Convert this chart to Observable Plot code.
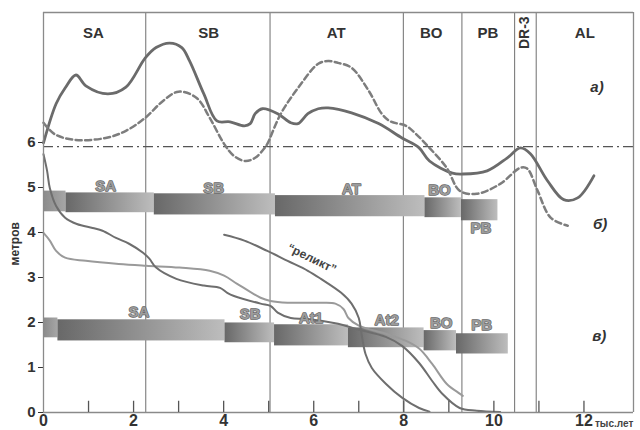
<!DOCTYPE html>
<html><head><meta charset="utf-8">
<script src="https://cdn.jsdelivr.net/npm/d3@7"></script>
<script src="https://cdn.jsdelivr.net/npm/@observablehq/plot@0.6"></script>
<style>
body{margin:0;background:#fff;}
svg{display:block;font-family:"Liberation Sans",Arial,sans-serif;}
</style>
</head><body><div id="chart"></div>
<script>
// ---- data ----
const periodNames = ["SA", "SB", "AT", "BO", "PB", "DR-3", "AL"];
const periodLabelX = [1.11, 3.67, 6.50, 8.61, 9.87, 10.68, 12.02];
const periodBounds = [2.27, 5.03, 7.99, 9.29, 10.46, 10.94];
const refLevel = 5.91;
const yTicks = [0, 1, 2, 3, 4, 5, 6];
const xMinorTicks = [1, 2, 3, 4, 5, 6, 7, 8, 9, 10, 11, 12];
const xTickLabels = [0, 2, 4, 6, 8, 10, 12];

// curve а) solid
const curveASolid = [[0,5.99],[0.28,6.86],[0.48,7.21],[0.72,7.50],[0.94,7.26],[1.43,7.08],[1.83,7.23],[2.26,7.88],[2.50,8.11],[2.80,8.21],[3.07,8.11],[3.24,7.82],[3.56,7.08],[3.85,6.48],[4.14,6.46],[4.46,6.37],[4.59,6.42],[4.70,6.64],[4.86,6.75],[5.20,6.64],[5.49,6.44],[5.65,6.42],[5.87,6.64],[6.10,6.75],[6.32,6.77],[6.84,6.66],[7.44,6.42],[7.96,6.10],[8.34,5.88],[8.57,5.59],[9.08,5.32],[9.31,5.30],[9.85,5.37],[10.30,5.66],[10.59,5.88],[10.81,5.75],[11.19,5.15],[11.55,4.73],[11.86,4.77],[12.22,5.26]];
// curve а) dashed
const curveADashed = [[0,6.44],[0.24,6.19],[0.68,6.06],[1.38,6.10],[1.83,6.26],[2.26,6.55],[2.66,6.93],[3.00,7.13],[3.40,6.99],[3.69,6.55],[4.01,5.97],[4.23,5.70],[4.48,5.59],[4.70,5.66],[4.91,5.88],[4.97,5.97],[5.27,6.64],[5.65,7.21],[6.10,7.75],[6.32,7.81],[6.54,7.77],[6.84,7.66],[7.22,7.15],[7.51,6.64],[7.70,6.47],[8.05,6.37],[8.27,6.19],[8.57,5.88],[8.95,5.44],[9.24,4.93],[9.62,4.86],[10.14,5.08],[10.59,5.44],[10.74,5.42],[10.97,4.93],[11.26,4.33],[11.64,4.15]];
// lower curves
const curveDark = [[0,5.74],[0.08,5.37],[0.14,4.99],[0.28,4.59],[0.48,4.33],[0.74,4.19],[1.09,4.10],[1.31,4.04],[1.61,3.88],[1.90,3.75],[2.21,3.55],[2.35,3.42],[2.50,3.22],[2.95,2.97],[3.56,2.82],[3.92,2.77],[4.08,2.66],[4.23,2.59],[4.82,2.42],[5.04,2.37],[5.20,2.22],[5.49,2.10],[5.87,2.08],[6.54,1.97],[6.93,1.86],[7.60,1.68],[7.96,1.48],[8.34,1.10],[8.63,0.70],[8.86,0.41],[9.24,0.10],[9.62,0.04],[10.14,0.01]];
const curveLight = [[0,3.99],[0.14,3.82],[0.28,3.59],[0.48,3.44],[0.94,3.37],[1.67,3.30],[2.28,3.26],[3.02,3.22],[3.69,3.15],[4.01,3.04],[4.30,2.86],[4.82,2.55],[5.04,2.48],[5.42,2.44],[6.16,2.44],[6.48,2.42],[6.66,2.30],[6.77,2.10],[7.00,1.93],[7.60,1.75],[8.05,1.59],[8.34,1.42],[8.63,1.08],[8.95,0.64],[9.24,0.42],[9.31,0.37]];
const curveRelict = [[4.01,3.95],[4.46,3.82],[4.97,3.59],[5.42,3.37],[5.87,3.15],[6.16,2.97],[6.61,2.66],[6.84,2.42],[7.00,2.10],[7.06,1.75],[7.15,1.30],[7.29,0.99],[7.60,0.64],[7.96,0.33],[8.34,0.10],[8.57,0.02]];

// bars б)
const barsBStart = [0, 0.50, 2.46, 5.15, 8.47, 9.28];
const barsBEnd   = [0.50, 2.46, 5.15, 8.47, 9.28, 10.09];
const barsBLow   = [4.46, 4.44, 4.39, 4.35, 4.33, 4.26];
const barsBHigh  = [4.92, 4.88, 4.86, 4.82, 4.77, 4.73];
const labelsB  = ["SA", "SB", "AT", "BO", "PB"];
const labelsBX = [1.38, 3.78, 6.84, 8.79, 9.71];
const labelsBY = [5.04, 4.99, 4.97, 4.93, 4.10];
// bars в)
const barsCStart = [0, 0.32, 4.03, 5.13, 6.77, 8.45, 9.17];
const barsCEnd   = [0.32, 4.03, 5.13, 6.77, 8.45, 9.17, 10.32];
const barsCLow   = [1.66, 1.59, 1.55, 1.48, 1.44, 1.37, 1.30];
const barsCHigh  = [2.10, 2.06, 1.99, 1.95, 1.88, 1.82, 1.75];
const labelsC  = ["SA", "SB", "At1", "At2", "BO", "PB"];
const labelsCX = [2.12, 4.59, 5.94, 7.62, 8.83, 9.73];
const labelsCY = [2.22, 2.19, 2.10, 2.06, 1.99, 1.93];

const panelLabels = ["а)", "б)", "в)"];
const panelLabelX = [12.29, 12.36, 12.34];
const panelLabelY = [7.24, 4.19, 1.70];

// ---- build tables ----
const toBars = (s, e, lo, hi) => s.map((v, i) => ({x1: v, x2: e[i], y1: lo[i], y2: hi[i], i}));
const bars = [...toBars(barsBStart, barsBEnd, barsBLow, barsBHigh), ...toBars(barsCStart, barsCEnd, barsCLow, barsCHigh)];
const pts = a => a.map(([x, y]) => ({x, y}));
const labels = [...labelsB.map((t, i) => ({t, x: labelsBX[i], y: labelsBY[i]})), ...labelsC.map((t, i) => ({t, x: labelsCX[i], y: labelsCY[i]}))];
const periods = periodNames.map((t, i) => ({t, x: periodLabelX[i]}));
const panels = panelLabels.map((t, i) => ({t, x: panelLabelX[i], y: panelLabelY[i]}));
const yTop = 8.889, xEnd = 13.1;

const chart = Plot.plot({
  width: 640, height: 430,
  marginLeft: 43, marginRight: 7, marginTop: 12, marginBottom: 18,
  style: {fontFamily: "Liberation Sans, Arial, sans-serif", fontSize: "15px", fontWeight: "bold", color: "#333", background: "#fff"},
  x: {domain: [0, xEnd], axis: null},
  y: {domain: [0, yTop], ticks: yTicks, tickSize: 5, tickPadding: 3, label: null, tickFormat: d => d},
  marks: [
    Plot.ruleX(periodBounds, {y1: 0, y2: yTop, stroke: "#7c7c7c", strokeWidth: 1.1}),
    Plot.ruleY([refLevel], {stroke: "#555", strokeWidth: 1.3, strokeDasharray: "10,4,2,4"}),
    Plot.rect(bars.filter(d => d.i === 0), {x1: "x1", x2: "x2", y1: "y1", y2: "y2", fill: "url(#gFirst)"}),
    Plot.rect(bars.filter(d => d.i > 0), {x1: "x1", x2: "x2", y1: "y1", y2: "y2", fill: "url(#gMain)"}),
    Plot.line(pts(curveASolid), {x: "x", y: "y", stroke: "#6b6b6b", strokeWidth: 2.8, curve: "catmull-rom"}),
    Plot.line(pts(curveADashed), {x: "x", y: "y", stroke: "#7d7d7d", strokeWidth: 2.5, strokeDasharray: "6,3.5", curve: "catmull-rom"}),
    Plot.line(pts(curveLight), {x: "x", y: "y", stroke: "#9a9a9a", strokeWidth: 2, curve: "catmull-rom"}),
    Plot.line(pts(curveDark), {x: "x", y: "y", stroke: "#6e6e6e", strokeWidth: 2, curve: "catmull-rom"}),
    Plot.line(pts(curveRelict), {x: "x", y: "y", stroke: "#6e6e6e", strokeWidth: 2, curve: "catmull-rom"}),
    Plot.text(labels, {x: "x", y: "y", text: "t", fontSize: 15, fontWeight: "bold", fill: "#9c9c9c", stroke: "#666", strokeWidth: 1.3}),
    Plot.text(["“реликт”"], {x: 5.96, y: 3.42, text: d => d, rotate: 26, fontSize: 12, fontWeight: "bold", fill: "#444"}),
    // frame
    Plot.ruleY([0, yTop], {x1: 0, x2: xEnd, stroke: "#8a8a8a", strokeWidth: 1.3}),
    Plot.ruleX([0, xEnd], {y1: 0, y2: yTop, stroke: "#8a8a8a", strokeWidth: 1.3}),
    Plot.ruleX(xMinorTicks, {y1: 0, y2: 0.25, stroke: "#555", strokeWidth: 1.3}),
    Plot.text(xTickLabels, {x: d => d, y: 0, text: d => String(d), dy: 2, lineAnchor: "top", fontSize: 16, fontWeight: "bold", fill: "#333"}),
    Plot.text(["тыс.лет"], {x: 12, y: 0, text: d => d, dx: 11, dy: 11, textAnchor: "start", fontSize: 10, fontWeight: "bold", fill: "#444"}),
    Plot.text(["метров"], {x: 0, y: 3.75, text: d => d, dx: -28, rotate: -90, fontSize: 12, fontWeight: "bold", fill: "#333"}),
    Plot.text(periods.filter(d => d.t !== "DR-3"), {x: "x", y: 8.44, text: "t", fontSize: 15, fontWeight: "bold", fill: "#333"}),
    Plot.text(periods.filter(d => d.t === "DR-3"), {x: "x", y: 8.44, text: "t", rotate: -90, fontSize: 14, fontWeight: "bold", fill: "#333"}),
    Plot.text(panels, {x: "x", y: "y", text: "t", fontSize: 15, fontWeight: "bold", fontStyle: "italic", fill: "#333"})
  ]
});

// gradients for bars
const ns = "http://www.w3.org/2000/svg";
const defs = document.createElementNS(ns, "defs");
function grad(id, c0, c1) {
  const g = document.createElementNS(ns, "linearGradient");
  g.setAttribute("id", id);
  g.setAttribute("x1", "0"); g.setAttribute("x2", "1"); g.setAttribute("y1", "0"); g.setAttribute("y2", "0");
  [[0, c0], [1, c1]].forEach(([o, c]) => {
    const s = document.createElementNS(ns, "stop");
    s.setAttribute("offset", o); s.setAttribute("stop-color", c);
    g.appendChild(s);
  });
  defs.appendChild(g);
}
grad("gMain", "#686868", "#bdbdbd");
grad("gFirst", "#8a8a8a", "#a6a6a6");
chart.insertBefore(defs, chart.firstChild);
document.getElementById("chart").appendChild(chart);
</script>
</body></html>
